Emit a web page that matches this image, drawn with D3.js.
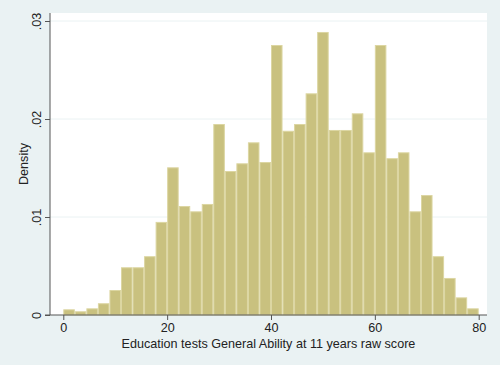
<!DOCTYPE html>
<html>
<head>
<meta charset="utf-8">
<script src="https://cdn.jsdelivr.net/npm/d3@7"></script>
<style>
  html, body { margin: 0; padding: 0; background: #eaf2f3; }
  svg { display: block; }
  text { font-family: "Liberation Sans", Arial, sans-serif; fill: #222; }
</style>
</head>
<body>
<script>
// Histogram: 36 bins over [0, 80]
const binStart = 0;
const binEnd = 80;
const densities = [
  0.00058, 0.00038, 0.00068, 0.00120, 0.00255, 0.00487, 0.00487, 0.00600, 0.00950,
  0.01507, 0.01112, 0.01058, 0.01133, 0.01949, 0.01469, 0.01548, 0.01762, 0.01561,
  0.02755, 0.01880, 0.01949, 0.02262, 0.02888, 0.01888, 0.01888, 0.02058, 0.01660,
  0.02755, 0.01600, 0.01660, 0.01058, 0.01224, 0.00600, 0.00378, 0.00180, 0.00068
];
const xTicks = [0, 20, 40, 60, 80];
const yTicks = [0, 0.01, 0.02, 0.03];
const yTickLabels = ["0", ".01", ".02", ".03"];
const xTitle = "Education tests General Ability at 11 years raw score";
const yTitle = "Density";

const W = 500, H = 365;
const plot = { left: 50, right: 487, top: 13, bottom: 315 };
const FS = "12.6px";

const svg = d3.select("body").append("svg").attr("width", W).attr("height", H);
svg.append("rect").attr("width", W).attr("height", H).attr("fill", "#eaf2f3");

const x = d3.scaleLinear().domain([0, 80]).range([63.3, 478.7]);
const y = d3.scaleLinear().domain([0, 0.03]).range([plot.bottom, 21]);

// plot region
svg.append("rect")
  .attr("x", plot.left).attr("y", plot.top)
  .attr("width", plot.right - plot.left).attr("height", plot.bottom - plot.top)
  .attr("fill", "#ffffff");

// gridlines
svg.append("g").selectAll("line").data(yTicks.filter(d => d > 0)).join("line")
  .attr("x1", plot.left).attr("x2", plot.right)
  .attr("y1", d => y(d)).attr("y2", d => y(d))
  .attr("stroke", "#eaf2f3").attr("stroke-width", 1);

// bars
const binW = (binEnd - binStart) / densities.length;
const bins = densities.map((d, i) => ({ x0: binStart + i * binW, x1: binStart + (i + 1) * binW, d }));
svg.append("g").selectAll("rect").data(bins).join("rect")
  .attr("x", b => x(b.x0) + 0.5)
  .attr("width", b => x(b.x1) - x(b.x0) - 1)
  .attr("y", b => y(b.d) + 0.5)
  .attr("height", b => y(0) - y(b.d) - 0.5)
  .attr("fill", "#c9c17f")
  .attr("stroke", "#dcd6a2")
  .attr("stroke-width", 1);

// y axis
const yAxis = d3.axisLeft(y).tickValues(yTicks).tickFormat((d, i) => yTickLabels[i]).tickSize(5);
const gy = svg.append("g").attr("transform", `translate(${plot.left},0)`).call(yAxis);
gy.select(".domain").attr("d", `M0,${plot.top}V${plot.bottom}`).attr("stroke", "#555");
gy.selectAll(".tick line").attr("stroke", "#555");
gy.selectAll(".tick text")
  .attr("transform", "rotate(-90)")
  .attr("x", 0).attr("y", -9).attr("dy", 0)
  .attr("text-anchor", "middle")
  .style("font-size", FS)
  .attr("fill", "#222");

// x axis
const xAxis = d3.axisBottom(x).tickValues(xTicks).tickSize(5).tickPadding(3);
const gx = svg.append("g").attr("transform", `translate(0,${plot.bottom})`).call(xAxis);
gx.select(".domain").attr("d", `M${plot.left - 5},0H${plot.right}`).attr("stroke", "#555");
gx.selectAll(".tick line").attr("stroke", "#555");
gx.selectAll(".tick text")
  .style("font-size", FS)
  .attr("fill", "#222");

// axis titles
svg.append("text")
  .attr("x", (plot.left + plot.right) / 2).attr("y", 347.5)
  .attr("text-anchor", "middle")
  .style("font-size", FS)
  .text(xTitle);
svg.append("text")
  .attr("transform", `translate(27.5,${(plot.top + plot.bottom) / 2}) rotate(-90)`)
  .attr("text-anchor", "middle")
  .style("font-size", FS)
  .text(yTitle);
</script>
</body>
</html>
